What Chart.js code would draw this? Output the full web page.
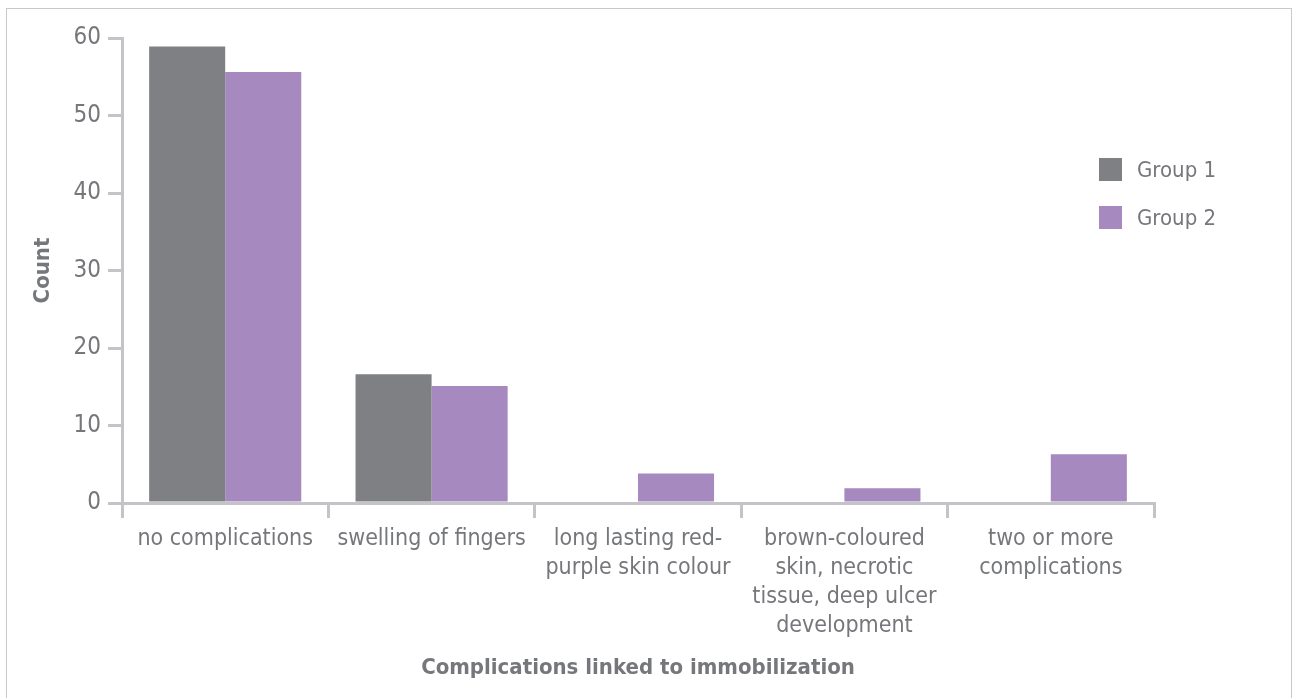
<!DOCTYPE html>
<html>
<head>
<meta charset="utf-8">
<script src="https://cdn.jsdelivr.net/npm/chart.js@4/dist/chart.umd.min.js"></script>
<style>
  html, body { margin: 0; padding: 0; background: #fff; }
  #frame { position: absolute; left: 6px; top: 8px; width: 1286px; height: 700px;
           border: 1.5px solid #c9c9c9; border-bottom: none; box-sizing: border-box; }
  #wrap { position: absolute; left: 0; top: 0; width: 1294px; height: 698px; }
  #legend { position: absolute; left: 1099px; top: 157px; font-family: 'Liberation Sans Narrow', 'DejaVu Sans Condensed', Roboto, sans-serif;
            font-size: 22px; color: #76777b; }
  #legend .item { display: flex; align-items: center; height: 24px; margin-bottom: 24px; }
  #legend .box { width: 23px; height: 23px; margin-right: 15px; }
</style>
</head>
<body>
<div id="frame"></div>
<div id="wrap"><canvas id="chart" width="1294" height="698"></canvas></div>
<div id="legend"></div>
<script>
// complication categories (multi-line labels)
const categories = [
  ["no complications"],
  ["swelling of fingers"],
  ["long lasting red-", "purple skin colour"],
  ["brown-coloured", "skin, necrotic", "tissue, deep ulcer", "development"],
  ["two or more", "complications"]
];
const group1 = [58.9, 16.6, 0, 0, 0];
const group2 = [55.6, 15.1, 3.8, 1.9, 6.3];
const yTicks = [0, 10, 20, 30, 40, 50, 60];

const FONT = "'Liberation Sans Narrow', 'DejaVu Sans Condensed', Roboto, sans-serif";
const TEXT = '#76777b';
const AXIS = '#c4c4c8';

Chart.defaults.font.family = FONT;
Chart.defaults.color = TEXT;

const chart = new Chart(document.getElementById('chart'), {
  type: 'bar',
  data: {
    labels: categories,
    datasets: [
      { label: 'Group 1', data: group1, backgroundColor: '#7f8084' },
      { label: 'Group 2', data: group2, backgroundColor: '#a689bf' }
    ]
  },
  options: {
    responsive: false,
    animation: false,
    events: [],
    categoryPercentage: 0.737,
    barPercentage: 1,
    layout: { padding: { top: 38, right: 140, bottom: 0, left: 0 } },
    plugins: { legend: { display: false }, tooltip: { enabled: false } },
    scales: {
      x: {
        afterFit: s => { s.height = 195; },
        border: { color: AXIS, width: 3 },
        grid: { drawOnChartArea: false, color: AXIS, lineWidth: 3, tickLength: 15, offset: true },
        ticks: { font: { size: 23, lineHeight: 1.26 }, color: TEXT, padding: 7, maxRotation: 0, autoSkip: false },
        title: { display: true, text: 'Complications linked to immobilization',
                 font: { size: 22, weight: 'bold' }, color: TEXT, padding: { top: 0, bottom: 17 } }
      },
      y: {
        min: 0, max: 60,
        afterFit: s => { s.width = 122; },
        afterBuildTicks: s => { s.ticks = yTicks.map(v => ({ value: v })); },
        border: { color: AXIS, width: 3 },
        grid: { drawOnChartArea: false, color: AXIS, lineWidth: 3, tickLength: 14 },
        ticks: { font: { size: 24 }, color: TEXT, padding: 7 },
        title: { display: true, text: 'Count', font: { size: 22, weight: 'bold' }, color: TEXT,
                 padding: { top: 30, bottom: 0 } }
      }
    }
  }
});

// legend built from the datasets
const legend = document.getElementById('legend');
chart.data.datasets.forEach(ds => {
  const item = document.createElement('div');
  item.className = 'item';
  const box = document.createElement('span');
  box.className = 'box';
  box.style.background = ds.backgroundColor;
  const txt = document.createElement('span');
  txt.textContent = ds.label;
  item.appendChild(box);
  item.appendChild(txt);
  legend.appendChild(item);
});
</script>
</body>
</html>
